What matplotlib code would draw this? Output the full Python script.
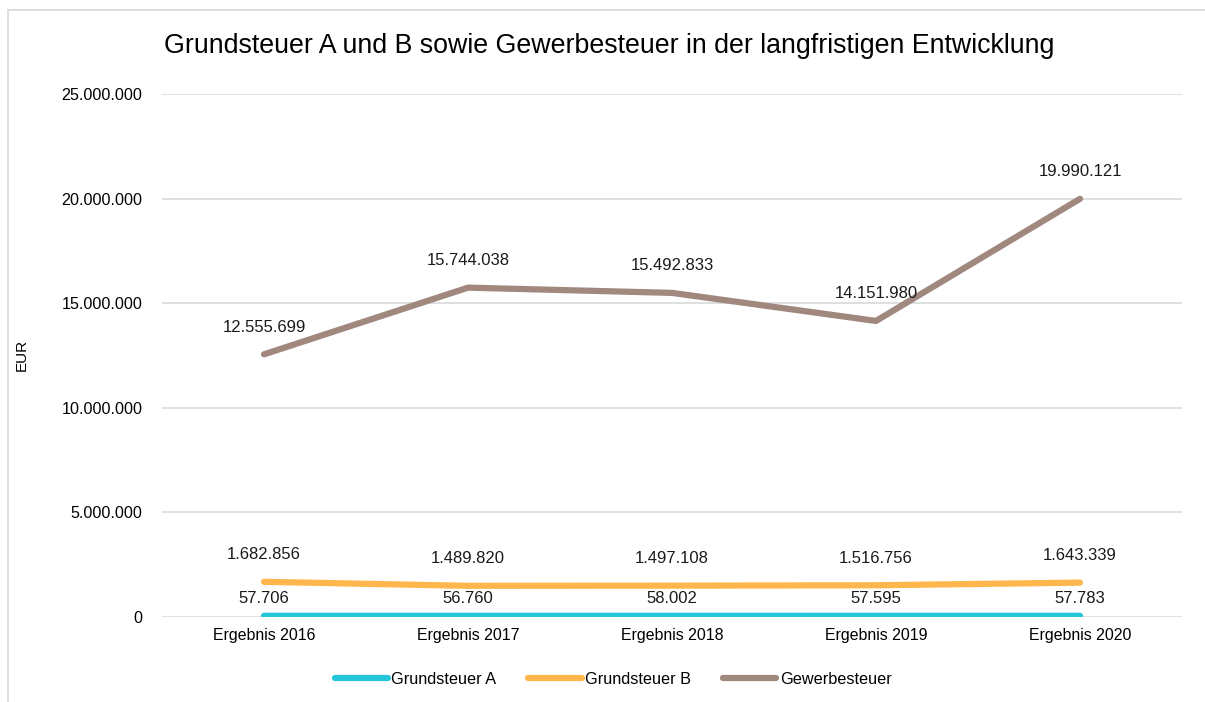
import matplotlib.pyplot as plt
from matplotlib.lines import Line2D

plt.rcParams['font.family'] = ['Liberation Sans', 'DejaVu Sans']

categories = ['Ergebnis 2016', 'Ergebnis 2017', 'Ergebnis 2018', 'Ergebnis 2019', 'Ergebnis 2020']
grundsteuer_a = [57706, 56760, 58002, 57595, 57783]
grundsteuer_b = [1682856, 1489820, 1497108, 1516756, 1643339]
gewerbesteuer = [12555699, 15744038, 15492833, 14151980, 19990121]

series = [
    ('Grundsteuer A', grundsteuer_a, '#26C6DA', 17),
    ('Grundsteuer B', grundsteuer_b, '#FFB74D', 27),
    ('Gewerbesteuer', gewerbesteuer, '#A1887F', 27),
]


def fmt(v):
    return f'{v:,.0f}'.replace(',', '.')


W, H = 1205, 702
fig = plt.figure(figsize=(W / 100, H / 100), dpi=100)
ax = fig.add_axes([162 / W, 1 - 617 / H, (1182 - 162) / W, (617 - 94) / H])

x = list(range(len(categories)))
for name, vals, color, off in series:
    ax.plot(x, vals, color=color, lw=4.5, solid_capstyle='round', label=name, zorder=3)
    for xi, v in zip(x, vals):
        ax.annotate(fmt(v), (xi, v), xytext=(0, off), textcoords='offset pixels',
                    ha='center', va='center', fontsize=12, color='#1a1a1a')

ax.set_xlim(-0.5, len(categories) - 0.5)
ax.set_ylim(0, 25000000)
ax.set_yticks(range(0, 25000001, 5000000))
ax.set_yticklabels([fmt(v) for v in range(0, 25000001, 5000000)], fontsize=11.6)
ax.set_xticks(x)
ax.set_xticklabels(categories, fontsize=11.4)
ax.tick_params(length=0, pad=8)
ax.tick_params(axis='y', pad=14)
ax.grid(axis='y', color='#D9D9D9', lw=1.2)
ax.set_axisbelow(True)
for s in ax.spines.values():
    s.set_visible(False)

fig.text(22 / W, 1 - 355 / H, 'EUR', rotation=90, ha='center', va='center', fontsize=11)
fig.text(609 / W, 1 - 46 / H, 'Grundsteuer A und B sowie Gewerbesteuer in der langfristigen Entwicklung',
         ha='center', va='center', fontsize=19.3)

handles = [Line2D([], [], color=c, lw=4.5, solid_capstyle='round') for _, _, c, _ in series]
fig.legend(handles, [s[0] for s in series], loc='center', bbox_to_anchor=(613 / W, 1 - 679 / H),
           ncol=3, frameon=False, fontsize=11.7, handlelength=3.3, handletextpad=0.2, columnspacing=1.95)

# chart frame
fig.add_artist(Line2D([8 / W, 8 / W], [0, 1 - 10 / H], color='#D9D9D9', lw=1.2))
fig.add_artist(Line2D([8 / W, 1], [1 - 10 / H, 1 - 10 / H], color='#D9D9D9', lw=1.2))

fig.savefig('out.png', dpi=100)
